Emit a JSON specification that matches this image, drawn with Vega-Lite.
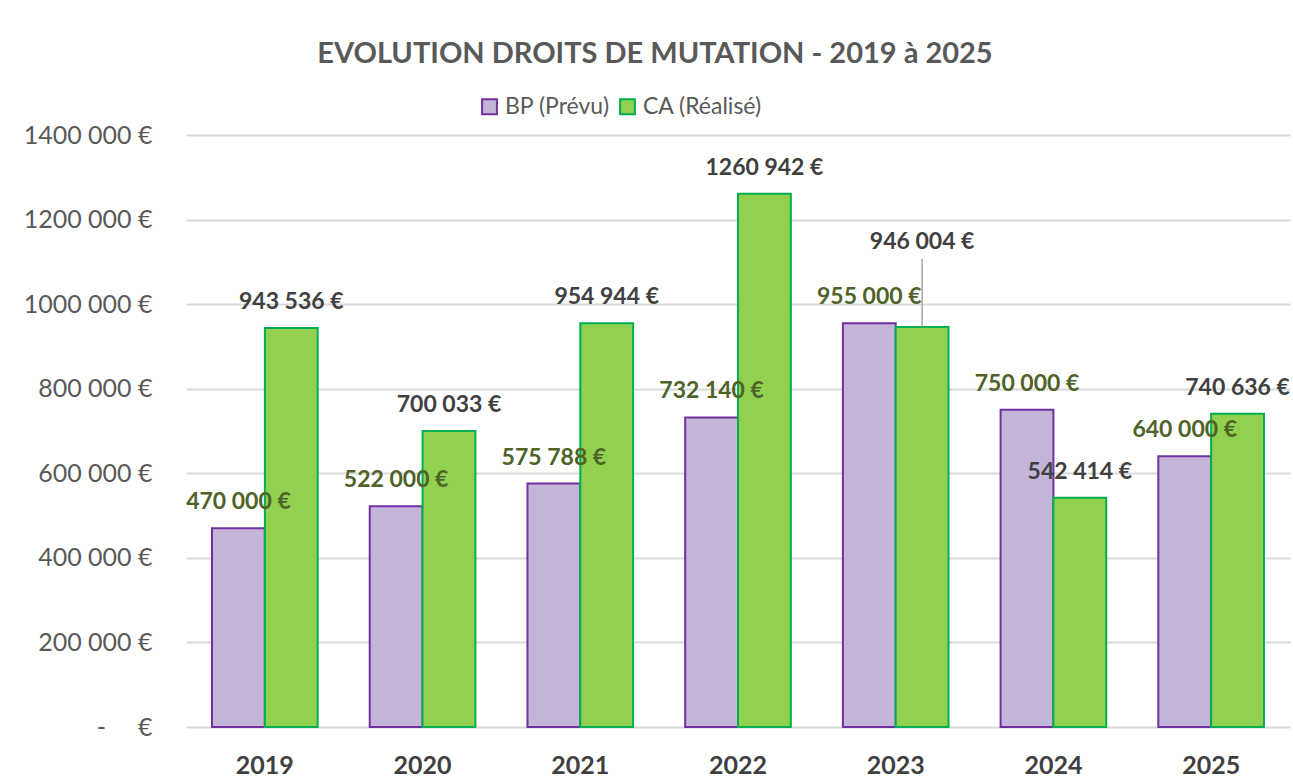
{
  "$schema": "https://vega.github.io/schema/vega-lite/v6.json",
  "width": 1104,
  "height": 592,
  "autosize": {"type": "none"},
  "padding": {"left": 186, "top": 135, "right": 3, "bottom": 54},
  "background": "white",
  "config": {
    "locale": {"number": {"decimal": ",", "thousands": " ", "grouping": [3, 4], "currency": ["", " €"]}},
    "view": {"stroke": null},
    "font": "Lato"
  },
  "title": {
    "text": "EVOLUTION DROITS DE MUTATION - 2019 à 2025",
    "fontSize": 29,
    "fontWeight": "bold",
    "color": "#595959",
    "anchor": "middle",
    "dx": -83,
    "offset": 26,
    "font": "Lato"
  },
  "data": {
    "values": [
      {"year": "2019", "series": "BP (Prévu)", "value": 470000},
      {"year": "2019", "series": "CA (Réalisé)", "value": 943536},
      {"year": "2020", "series": "BP (Prévu)", "value": 522000},
      {"year": "2020", "series": "CA (Réalisé)", "value": 700033},
      {"year": "2021", "series": "BP (Prévu)", "value": 575788},
      {"year": "2021", "series": "CA (Réalisé)", "value": 954944},
      {"year": "2022", "series": "BP (Prévu)", "value": 732140},
      {"year": "2022", "series": "CA (Réalisé)", "value": 1260942},
      {"year": "2023", "series": "BP (Prévu)", "value": 955000},
      {"year": "2023", "series": "CA (Réalisé)", "value": 946004},
      {"year": "2024", "series": "BP (Prévu)", "value": 750000},
      {"year": "2024", "series": "CA (Réalisé)", "value": 542414},
      {"year": "2025", "series": "BP (Prévu)", "value": 640000},
      {"year": "2025", "series": "CA (Réalisé)", "value": 740636}
    ]
  },
  "encoding": {
    "x": {
      "field": "year",
      "type": "nominal",
      "scale": {"paddingInner": 0.33, "paddingOuter": 0.165},
      "axis": {
        "title": null,
        "labelAngle": 0,
        "labelFontSize": 25,
        "labelFontWeight": "bold",
        "labelColor": "#404040",
        "ticks": false,
        "domain": false,
        "labelPadding": 26
      }
    },
    "xOffset": {"field": "series", "sort": ["BP (Prévu)", "CA (Réalisé)"]},
    "y": {
      "field": "value",
      "type": "quantitative",
      "scale": {"domain": [0, 1400000]},
      "axis": {
        "title": null,
        "values": [0, 200000, 400000, 600000, 800000, 1000000, 1200000, 1400000],
        "labelExpr": "datum.value == 0 ? '-\u00a0\u00a0\u00a0\u00a0\u00a0€' : floor(datum.value / 1000) + ' 000 €'",
        "labelFontSize": 25,
        "labelColor": "#595959",
        "ticks": false,
        "domain": false,
        "gridColor": "#D9D9D9",
        "gridWidth": 2,
        "labelPadding": 34
      }
    }
  },
  "layer": [
    {
      "mark": {"type": "bar", "strokeWidth": 2},
      "encoding": {
        "color": {
          "field": "series",
          "type": "nominal",
          "scale": {"domain": ["BP (Prévu)", "CA (Réalisé)"], "range": ["#C3B4D8", "#92D050"]},
          "legend": {
            "title": null,
            "orient": "none",
            "legendX": 292,
            "legendY": -40,
            "direction": "horizontal",
            "symbolType": "square",
            "symbolSize": 220,
            "symbolStrokeWidth": 2,
            "labelFontSize": 23,
            "labelColor": "#595959",
            "columnPadding": 6,
            "labelOffset": 4
          }
        },
        "stroke": {
          "field": "series",
          "type": "nominal",
          "scale": {"domain": ["BP (Prévu)", "CA (Réalisé)"], "range": ["#7030A0", "#00B050"]},
          "legend": {
            "title": null,
            "orient": "none",
            "legendX": 292,
            "legendY": -40,
            "direction": "horizontal",
            "symbolType": "square",
            "symbolSize": 220,
            "symbolStrokeWidth": 2,
            "labelFontSize": 23,
            "labelColor": "#595959",
            "columnPadding": 6,
            "labelOffset": 4
          }
        }
      }
    },
    {
      "transform": [{"filter": "!(datum.year == '2023' && datum.series == 'CA (Réalisé)')"}],
      "mark": {"type": "text", "dy": -26, "fontSize": 23, "fontWeight": "bold", "baseline": "middle"},
      "encoding": {
        "text": {"field": "value", "type": "quantitative", "format": "$,.0f"},
        "color": {
          "condition": {"test": "datum.series == 'BP (Prévu)'", "value": "#4F6228"},
          "value": "#404040"
        }
      }
    },
    {
      "transform": [{"filter": "datum.year == '2023' && datum.series == 'CA (Réalisé)'"}],
      "mark": {"type": "text", "dy": -85, "fontSize": 23, "fontWeight": "bold", "baseline": "middle", "color": "#404040"},
      "encoding": {
        "text": {"field": "value", "type": "quantitative", "format": "$,.0f"}
      }
    },
    {
      "transform": [{"filter": "datum.year == '2023' && datum.series == 'CA (Réalisé)'"}],
      "mark": {"type": "rule", "color": "#A6A6A6", "strokeWidth": 1.5, "y2Offset": -68},
      "encoding": {
        "y2": {"field": "value"}
      }
    }
  ]
}
